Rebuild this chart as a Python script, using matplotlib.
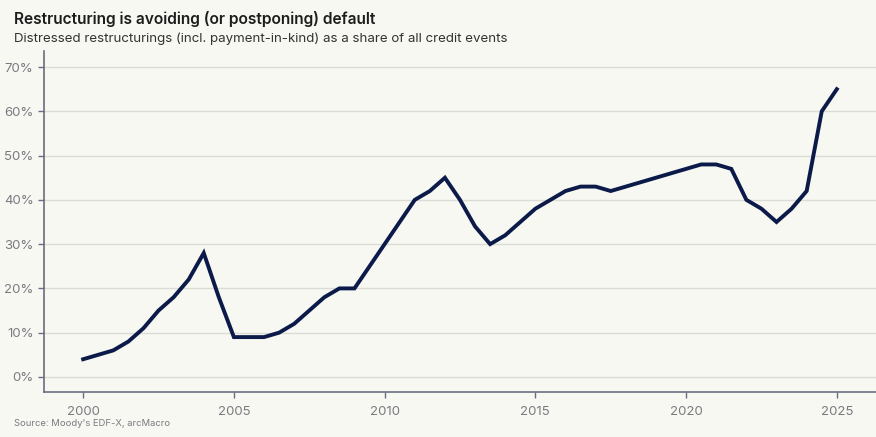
import matplotlib.pyplot as plt
from matplotlib.ticker import FuncFormatter

# Distressed restructurings as a share of all credit events (%), half-yearly
years = [2000, 2001, 2001.5, 2002, 2002.5, 2003, 2003.5, 2004, 2004.5, 2005,
         2005.5, 2006, 2006.5, 2007, 2007.5, 2008, 2008.5, 2009, 2009.5, 2010,
         2010.5, 2011, 2011.5, 2012, 2012.5, 2013, 2013.5, 2014, 2014.5, 2015,
         2015.5, 2016, 2016.5, 2017, 2017.5, 2018, 2018.5, 2019, 2019.5, 2020,
         2020.5, 2021, 2021.5, 2022, 2022.5, 2023, 2023.5, 2024, 2024.5, 2025]
share = [4, 6, 8, 11, 15, 18, 22, 28, 18, 9,
         9, 9, 10, 12, 15, 18, 20, 20, 25, 30,
         35, 40, 42, 45, 40, 34, 30, 32, 35, 38,
         40, 42, 43, 43, 42, 43, 44, 45, 46, 47,
         48, 48, 47, 40, 38, 35, 38, 42, 60, 65]

xticks = [2000, 2005, 2010, 2015, 2020, 2025]
yticks = [0, 10, 20, 30, 40, 50, 60, 70]

bg = '#f8f8f3'
fig = plt.figure(figsize=(8.76, 4.37), dpi=100, facecolor=bg)
ax = fig.add_axes([0.0502, 0.103, 0.9498, 0.780], facecolor=bg)

ax.plot(years, share, color='#0b1a48', lw=2.8, solid_joinstyle='miter', zorder=3)

ax.set_xlim(1998.7, 2026.3)
ax.set_ylim(-3.4, 73.6)
ax.set_xticks(xticks)
ax.set_yticks(yticks)
ax.yaxis.set_major_formatter(FuncFormatter(lambda v, p: f'{v:.0f}%'))
ax.grid(axis='y', color='#dcdcd6', lw=1)
ax.set_axisbelow(True)

for s in ['top', 'right']:
    ax.spines[s].set_visible(False)
for s in ['left', 'bottom']:
    ax.spines[s].set_color('#6a6d80')
    ax.spines[s].set_linewidth(1.2)
ax.tick_params(colors='#6a6d80', labelcolor='#7a7a80', labelsize=9.5, length=4, width=1)
ax.tick_params(axis='x', pad=6)
for lab in ax.get_xticklabels() + ax.get_yticklabels():
    lab.set_fontfamily('Inter')

fig.text(0.016, 0.945, 'Restructuring is avoiding (or postponing) default',
         fontsize=11.2, fontweight='semibold', color='#1d1d1d', family='Inter')
fig.text(0.016, 0.903, 'Distressed restructurings (incl. payment-in-kind) as a share of all credit events',
         fontsize=9.6, color='#333333', family='Inter')
fig.text(0.016, 0.025, "Source: Moody's EDF-X, arcMacro",
         fontsize=6.8, color='#7a7a80', family='Inter')

fig.savefig('out.png', dpi=100, facecolor=bg)
